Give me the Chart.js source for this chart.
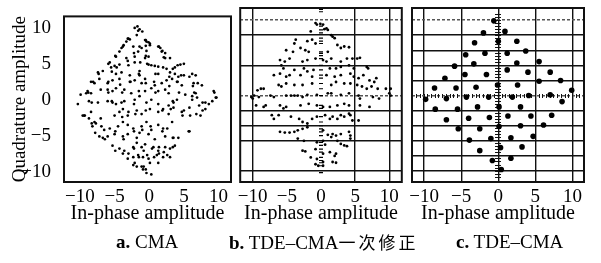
<!DOCTYPE html>
<html>
<head>
<meta charset="utf-8">
<script src="https://cdn.jsdelivr.net/npm/chart.js@4"></script>
<style>
  body { margin: 0; background: #fff; }
  #wrap { position: relative; width: 601px; height: 263px; overflow: hidden; font-family: "Liberation Serif", serif; }
  canvas { position: absolute; top: 0; }
  .cap { position: absolute; top: 230px; font-size: 19px; line-height: 24px; white-space: nowrap; color: #000; }
  .cap .zh { font-family: "Noto Sans CJK SC", sans-serif; font-size: 17px; letter-spacing: 3px; }
</style>
</head>
<body>
<div id="wrap">
  <canvas id="chartA" width="235" height="263" style="left:0px"></canvas>
  <canvas id="chartB" width="172" height="263" style="left:235px"></canvas>
  <canvas id="chartC" width="193" height="263" style="left:408px"></canvas>
  <div class="cap" style="left:116px"><b>a.</b> CMA</div>
  <div class="cap" style="left:229px"><b>b.</b> TDE–CMA<span class="zh">一次修正</span></div>
  <div class="cap" style="left:456px"><b>c.</b> TDE–CMA</div>
</div>
<script>
// TICKS AND GRID LINES

const axisTicks = [-10, -5, 0, 5, 10];
const onceGridX = [-10, 5, 10];
const onceGridY = [10, 8, 4, 0, -2, -4, -6, -10];
const onceDashedY = [10, 0];
const tdeGridX = [-10, -5, 0, 5, 10];
const tdeGridY = [10, 8, 6, 4, 2, 0, -2, -4, -6, -8, -10];
const tdeDashedY = [10, 0];

// a. CMA  [in-phase, quadrature]

const cmaPoints = [
  [-2.1,10.0],[-1.7,10.2],[-1.6,9.6],[-1.4,9.8],[-1.0,9.5],[-1.8,9.0],[-3.1,8.5],[-3.3,8.1],[-2.8,8.4],
  [-0.6,8.3],[-0.4,8.1],[-0.1,8.0],[0.1,7.8],[-3.8,7.4],[-4.0,7.2],[-2.3,7.4],[-1.4,7.4],[-1.1,7.2],
  [-0.5,7.5],[0.1,7.6],[1.3,7.4],[1.6,7.2],[-4.3,6.7],[-1.6,6.7],[-0.4,6.8],[1.8,6.7],[2.3,6.5],
  [-4.8,6.0],[-3.3,5.8],[-2.1,6.0],[-0.6,5.8],[-0.1,6.0],[2.3,5.8],[3.0,5.8],[-5.7,5.2],[-5.5,4.5],
  [-5.0,4.7],[-4.3,4.9],[-3.1,5.4],[-2.1,5.2],[-0.1,4.9],[0.3,4.8],[0.8,4.7],[1.3,4.6],[2.0,4.5],
  [2.5,4.3],[3.7,4.5],[4.5,4.9],[5.0,5.0],[-7.4,3.8],[-6.7,4.0],[-4.8,3.6],[-4.0,3.8],[-2.8,3.4],
  [-1.4,4.0],[-1.4,3.4],[1.3,3.6],[3.0,3.8],[3.7,3.6],[4.2,3.2],[5.0,3.4],[6.2,3.6],[6.7,3.4],
  [-8.4,2.5],[-7.9,2.3],[-7.2,2.9],[-6.0,2.3],[-5.3,2.7],[-4.3,2.9],[-2.8,2.5],[-2.1,2.7],[-1.1,2.3],
  [-0.6,2.9],[0.8,2.0],[1.8,2.3],[2.5,2.7],[3.3,2.9],[4.0,2.5],[4.7,2.0],[6.4,2.3],[7.6,2.0],
  [-8.9,1.2],[-8.4,0.9],[-7.0,1.4],[-6.0,1.4],[-5.3,1.2],[-4.8,1.6],[-3.6,1.4],[-2.6,0.9],[-0.6,1.2],
  [0.3,1.6],[1.3,1.2],[2.3,1.4],[2.8,0.9],[5.2,0.7],[6.2,0.5],[6.7,0.9],[6.9,0.3],[9.3,1.2],
  [-10.3,-0.6],[-9.9,0.7],[-9.1,0.9],[-8.7,-0.2],[-7.4,-0.4],[-6.0,-0.2],[-5.3,-0.4],[-4.8,-0.6],
  [-4.0,-0.4],[-3.6,-0.2],[-2.1,0.0],[-1.4,0.5],[-0.4,-0.4],[0.3,0.0],[1.3,-0.6],[2.8,-0.8],[3.5,-0.4],
  [4.0,0.0],[6.2,0.0],[7.2,-0.8],[8.1,-0.4],[9.1,-0.2],[9.6,0.3],[8.6,-0.6],[-9.6,-2.2],[-9.4,-2.2],
  [-8.7,-2.6],[-8.4,-1.7],[-7.9,-3.1],[-7.0,-2.6],[-5.0,-2.2],[-4.3,-1.7],[-3.8,-1.3],[-3.1,-2.2],
  [-1.8,-1.5],[-1.1,-2.0],[0.1,-1.3],[1.3,-1.7],[2.0,-1.3],[2.8,-2.0],[3.5,-1.1],[4.7,-1.7],[5.0,-1.5],
  [5.9,-2.2],[7.4,-2.2],[8.1,-1.3],[-8.2,-3.7],[-7.7,-3.3],[-6.5,-4.2],[-5.7,-4.0],[-4.5,-3.7],
  [-3.8,-3.1],[-3.1,-3.5],[-2.3,-4.0],[-1.1,-3.7],[-0.4,-3.1],[0.3,-4.2],[1.3,-3.5],[2.0,-4.0],
  [3.3,-3.1],[5.7,-4.4],[-7.2,-5.1],[-6.7,-5.3],[-6.0,-5.1],[-5.0,-4.8],[-3.8,-5.1],[-3.1,-4.8],
  [-1.8,-5.3],[-1.4,-4.6],[-0.1,-4.8],[0.8,-5.5],[2.3,-5.1],[3.5,-5.3],[4.2,-5.3],[-5.3,-6.4],
  [-4.3,-6.8],[-3.6,-7.1],[-2.3,-6.6],[-1.8,-6.0],[-1.1,-6.6],[-0.6,-6.2],[0.6,-6.6],[1.3,-7.1],
  [2.3,-6.6],[3.0,-6.8],[3.7,-6.4],[-3.8,-7.5],[-3.1,-8.2],[-2.3,-8.0],[-1.6,-7.7],[-0.9,-8.0],
  [-0.1,-8.2],[1.1,-7.7],[2.0,-8.0],[3.0,-8.0],[-2.3,-9.1],[-1.8,-9.3],[-2.1,-8.8],[-1.1,-9.3],
  [0.1,-8.8],[1.3,-8.8],[-0.4,-10.2],[0.3,-10.4],[-0.9,-9.7],
  [-3.0,8.5],[-3.7,7.6],[-0.5,8.3],[1.4,7.4],[1.9,6.8],[-4.9,6.1],[-2.2,6.5],[-0.5,6.1],[2.1,5.9],
  [-5.9,5.0],[-4.7,4.5],[-3.0,4.8],[-1.3,5.2],[-0.3,5.0],[3.4,4.3],[4.1,4.8],[-7.3,3.6],[-5.4,3.9],
  [-1.5,3.6],[0.9,3.6],[2.9,3.2],[4.6,3.4],[5.8,3.2],[-8.1,2.5],[-5.9,2.5],[-4.2,2.1],[-2.7,2.5],
  [-0.5,2.3],[0.7,2.5],[2.9,1.9],[4.1,2.5],[6.3,1.9],[7.0,2.3],[-8.8,1.0],[-5.9,1.0],[-3.9,1.0],
  [-1.5,1.2],[0.9,1.0],[4.3,1.0],[6.5,1.0],[9.4,1.0],[9.7,0.3],
  [-8.3,-0.4],[-5.4,-0.2],[-2.2,-0.6],[3.4,-0.2],[7.7,-0.4],[-9.3,-2.2],[-8.3,-3.3],[-6.9,-3.7],
  [-3.9,-2.4],[-3.0,-1.7],[-2.0,-2.0],[-0.5,-1.5],[1.9,-1.5],[3.1,-1.3],[4.8,-2.2],[5.8,-1.1],
  [6.8,-2.0],[7.7,-1.5],[-7.8,-4.6],[-6.4,-5.5],[-4.9,-4.4],[-3.7,-5.5],[-2.2,-4.4],[-1.0,-4.2],
  [0.2,-3.7],[1.9,-4.4],[2.6,-4.0],[3.4,-5.3],[5.8,-4.4],[-4.9,-7.1],[-3.0,-7.5],[-2.2,-6.8],
  [-0.8,-7.1],[0.4,-6.8],[1.4,-6.6],[2.1,-7.3],[3.4,-6.6],[-1.5,-8.0],[-0.3,-7.7],[0.7,-8.0],
  [1.4,-7.5],[2.6,-7.7],[-0.8,-9.3],[-0.5,-9.7]
];

// b. TDE-CMA first correction

const oncePoints = [
  [-0.8,9.6],[-0.6,9.4],[-0.1,9.5],[0.3,9.4],[0.8,8.9],[1.0,8.7],[0.5,8.8],[-1.5,8.5],[1.5,8.0],
  [1.7,7.8],[2.0,7.6],[-3.7,7.4],[-3.9,6.9],[-2.0,7.2],[-1.3,7.4],[-0.8,6.9],[2.4,6.7],[2.9,6.3],
  [-5.1,6.0],[-4.1,5.8],[-3.0,6.3],[-2.3,6.0],[-1.8,5.8],[1.0,5.8],[3.4,6.5],[4.1,6.4],[-6.0,4.7],
  [-5.3,4.5],[-4.6,4.9],[-2.7,4.5],[-2.0,4.7],[-0.8,4.9],[0.3,4.7],[0.8,4.5],[1.5,4.9],[2.9,4.5],
  [3.8,4.9],[4.6,4.9],[5.3,4.9],[5.7,5.0],[-5.8,4.0],[-5.5,3.6],[-3.9,3.4],[-2.5,3.6],[-2.0,3.2],
  [-1.1,3.4],[1.3,3.6],[2.2,3.6],[2.9,3.8],[4.1,4.0],[4.8,3.6],[6.7,3.8],[6.9,3.6],[8.1,2.3],
  [-6.9,2.7],[-6.0,2.9],[-5.1,2.5],[-4.6,2.7],[-3.0,2.7],[-1.3,2.5],[0.8,2.7],[2.0,2.5],[2.9,2.7],
  [4.3,2.9],[4.8,2.5],[5.5,2.3],[6.2,2.7],[7.1,2.0],[7.8,1.8],[-9.3,0.7],[-8.8,0.9],[-8.4,0.9],
  [-6.2,1.4],[-5.8,1.2],[-5.1,1.6],[-3.9,1.4],[-2.7,1.4],[-1.3,1.6],[1.5,1.4],[2.2,1.8],[3.4,1.6],
  [4.3,1.6],[5.3,1.4],[6.0,1.2],[6.7,0.9],[7.4,1.2],[8.3,0.9],[9.5,0.9],[10.2,0.9],[-10.2,-0.2],
  [-9.8,0.0],[-10.0,-0.4],[-9.1,-0.2],[-7.4,0.0],[-6.9,-0.2],[-5.1,0.0],[-4.4,0.0],[-3.9,0.0],
  [-3.4,0.0],[-2.7,-0.2],[-2.0,0.1],[-0.6,0.1],[1.0,0.3],[1.5,0.3],[2.9,0.1],[4.1,0.3],[5.5,0.0],
  [5.7,-0.4],[7.6,-0.2],[8.5,-0.4],[10.0,0.3],[10.2,0.0],[-9.5,-1.3],[-8.4,-1.5],[-8.1,-1.3],
  [-6.0,-1.3],[-5.5,-1.7],[-5.1,-1.5],[-3.0,-1.3],[-1.8,-1.1],[-0.6,-1.3],[0.3,-1.5],[1.3,-1.5],
  [2.4,-1.3],[3.4,-1.1],[4.1,-1.3],[5.7,-1.3],[7.1,-1.5],[-7.2,-2.6],[-6.9,-3.1],[-6.2,-2.6],
  [-4.4,-2.8],[-3.2,-3.1],[-2.7,-3.5],[-2.0,-3.7],[-1.3,-3.1],[-0.6,-2.8],[0.6,-2.6],[1.3,-3.1],
  [1.7,-2.8],[2.4,-3.1],[2.9,-2.6],[3.4,-2.8],[4.1,-2.4],[4.3,-2.6],[4.6,-3.3],[5.5,-3.3],
  [-6.0,-4.8],[-5.3,-4.9],[-4.6,-4.9],[-3.9,-4.8],[-3.4,-4.6],[-2.7,-4.4],[-2.0,-4.2],[0.3,-4.6],
  [1.0,-5.2],[1.7,-5.1],[2.2,-5.3],[2.9,-5.1],[4.1,-4.8],[4.3,-5.3],[-3.4,-5.7],[-2.5,-6.0],
  [-0.6,-6.2],[0.3,-6.0],[0.6,-6.5],[1.5,-5.5],[2.4,-6.0],[2.9,-6.4],[3.4,-6.6],[3.8,-6.7],[4.3,-5.7],
  [-2.7,-7.3],[-2.3,-7.4],[-0.8,-7.1],[0.3,-7.7],[1.3,-7.5],[2.0,-8.0],[2.2,-7.7],[-1.5,-8.2],
  [-0.6,-8.4],[0.3,-8.8],[1.7,-8.8],[2.2,-8.9],[-0.8,-9.1],[-0.4,-9.3],[0.3,-9.3]
];

// b. quadrature values of the points stuck on the in-phase zero line
const onceZeroQ = [11.4, 11.1, 9.2, 8.7, 8.3, 7.6, 7.2, 6.9, 5.8, 5.6, 5.3, 4.9, 4.0, 3.4, 2.7, 2.3, 1.6, 0.9,
  0.0, -1.3, -1.7, -2.8, -3.5, -4.0, -4.4, -4.8, -5.3, -6.2, -6.6, -7.1, -7.5, -8.2, -8.6, -8.9, -9.3, -10.2];

// c. TDE-CMA cluster centres

const tdePoints = [
  [-0.6,9.9],[0.9,8.5],[-2.0,8.3],[0.0,7.2],[2.5,7.2],[-3.2,7.0],[3.7,5.9],[-1.8,5.6],[-4.4,5.4],
  [1.2,5.6],[-5.9,3.9],[-3.3,4.2],[2.5,4.3],[5.5,4.5],[1.2,3.4],[4.0,3.1],[7.0,3.1],[-7.2,2.3],
  [-4.5,2.8],[-1.6,2.8],[-0.1,1.4],[2.6,1.4],[5.5,1.9],[8.4,2.0],[-8.6,1.0],[-5.7,1.0],[-3.0,1.1],
  [-9.8,-0.5],[-7.0,-0.4],[-4.3,-0.2],[-1.3,-0.2],[1.9,-0.2],[4.1,0.0],[7.0,0.1],[8.6,-0.8],[9.9,0.7],
  [-8.5,-1.8],[-5.5,-1.8],[-2.8,-1.5],[0.1,-1.5],[1.3,-2.7],[3.0,-1.5],[4.4,-2.7],[7.2,-2.6],
  [-7.0,-3.2],[-4.0,-3.0],[-1.2,-2.9],[-5.4,-4.4],[-2.5,-4.4],[0.1,-4.1],[3.0,-4.0],[6.1,-3.9],
  [4.7,-5.4],[1.7,-5.6],[-1.0,-5.7],[-3.9,-5.9],[0.3,-6.9],[3.2,-6.8],[-2.5,-7.3],[1.7,-8.3],
  [-0.8,-8.6],[0.4,-9.8]
];

// PANELS

const yMin = -11.45;
const yMax = 11.6;
const ink = '#111';
const tickFont = { family: 'Liberation Serif', size: 19 };
const titleFont = { family: 'Liberation Serif', size: 20 };
const minus = v => String(v).replace('-', '\u2212');
const inList = (list, c) => !!(c.tick && list.includes(c.tick.value));

const frame = {
  id: 'frame',
  afterDraw(chart) {
    const { ctx, chartArea: a } = chart;
    ctx.save();
    ctx.strokeStyle = ink;
    ctx.lineWidth = 2;
    ctx.strokeRect(a.left, a.top, a.right - a.left, a.bottom - a.top);
    ctx.restore();
  }
};

function xScale(min, max, gridList, showGrid) {
  return {
    type: 'linear', min, max,
    afterBuildTicks: s => { s.ticks = axisTicks.map(v => ({ value: v })); },
    afterFit: s => { s.height = 81; s.paddingLeft = 0; s.paddingRight = 0; },
    grid: {
      display: showGrid, drawTicks: false, lineWidth: 1.4,
      color: c => inList(gridList, c) ? ink : 'rgba(0,0,0,0)'
    },
    border: { display: false },
    ticks: { color: '#000', font: tickFont, padding: 4, autoSkip: false, maxRotation: 0, callback: minus },
    title: { display: true, text: 'In-phase amplitude', color: '#000', font: titleFont, padding: { top: 0, bottom: 37 } }
  };
}

function gridY(gridList, dashedList) {
  return {
    type: 'linear', min: yMin, max: yMax,
    afterBuildTicks: s => { s.ticks = gridList.map(v => ({ value: v })); },
    afterFit: s => { s.width = 2; },
    ticks: { display: false },
    grid: {
      drawTicks: false, lineWidth: 1.4,
      color: c => inList(dashedList, c) ? '#555' : ink
    },
    border: { display: false, dash: c => inList(dashedList, c) ? [3, 2] : [] }
  };
}

function baseOptions(padRight, scales) {
  return {
    responsive: false,
    animation: false,
    events: [],
    layout: { padding: { top: 8, right: padRight, bottom: 0, left: 0 } },
    plugins: { legend: { display: false }, tooltip: { enabled: false } },
    scales
  };
}

// a. CMA
new Chart(document.getElementById('chartA'), {
  type: 'scatter',
  data: {
    datasets: [{ data: cmaPoints, backgroundColor: '#000', borderWidth: 0, pointRadius: 1.35 }]
  },
  options: baseOptions(3, {
    x: xScale(-12.3, 11.8, [], false),
    y: {
      type: 'linear', min: yMin, max: yMax,
      afterBuildTicks: s => { s.ticks = axisTicks.map(v => ({ value: v })); },
      afterFit: s => { s.width = 64; },
      grid: { display: false },
      border: { display: false },
      ticks: { color: '#000', font: tickFont, padding: 5, callback: minus },
      title: { display: true, text: 'Quadrature amplitude', color: '#000', font: { family: 'Liberation Serif', size: 19 }, padding: { top: 8.6, bottom: 0 } }
    }
  }),
  plugins: [frame]
});

// b. TDE-CMA first correction
new Chart(document.getElementById('chartB'), {
  type: 'scatter',
  data: {
    datasets: [
      { data: oncePoints, backgroundColor: '#000', borderWidth: 0, pointRadius: 1.4 },
      { data: onceZeroQ.map(q => ({ x: 0, y: q })), pointStyle: 'line', borderColor: '#000', borderWidth: 1.2, pointRadius: 2 }
    ]
  },
  options: baseOptions(2, {
    x: xScale(-11.83, 11.83, onceGridX, true),
    y: gridY(onceGridY, onceDashedY)
  }),
  plugins: [frame]
});

// c. TDE-CMA
const ladder = (axis, pos, len, step) => ({
  type: 'linear', axis, position: pos,
  min: axis === 'y' ? yMin : -11.64, max: axis === 'y' ? yMax : 11.56,
  ticks: { display: false, stepSize: step },
  grid: { drawOnChartArea: false, tickLength: len, tickWidth: 1, tickColor: ink },
  border: { display: false }
});

new Chart(document.getElementById('chartC'), {
  type: 'scatter',
  data: {
    datasets: [{ data: tdePoints, backgroundColor: '#000', borderWidth: 0, pointRadius: 2.8 }]
  },
  options: baseOptions(17, {
    x: xScale(-11.64, 11.56, tdeGridX, true),
    y: gridY(tdeGridY, tdeDashedY),
    ladderL: ladder('y', { x: 0 }, 3, 0.4),
    ladderR: ladder('y', { x: 0 }, -3, 0.4),
    ladderD: ladder('x', { y: 0 }, 2, 0.5),
    ladderU: ladder('x', { y: 0 }, -2, 0.5)
  }),
  plugins: [frame]
});
</script>
</body>
</html>
